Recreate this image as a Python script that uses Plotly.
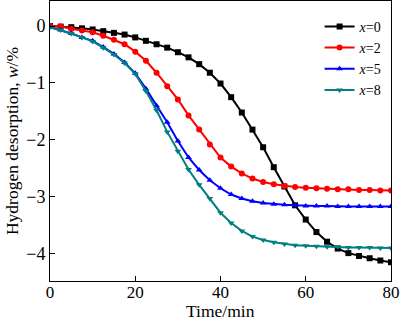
import plotly.graph_objects as go

time_min = [i * 2.5 for i in range(33)]

x0 = [0, -0.01, -0.02, -0.04, -0.06, -0.09, -0.12, -0.15, -0.20, -0.26, -0.32, -0.38,
      -0.46, -0.55, -0.67, -0.82, -1.01, -1.25, -1.52, -1.82, -2.13, -2.48, -2.82,
      -3.15, -3.40, -3.62, -3.79, -3.91, -3.99, -4.04, -4.08, -4.12, -4.15]
x2 = [0, -0.01, -0.05, -0.08, -0.11, -0.17, -0.24, -0.32, -0.45, -0.61, -0.82, -1.06,
      -1.29, -1.57, -1.82, -2.08, -2.31, -2.47, -2.59, -2.68, -2.74, -2.78, -2.81,
      -2.83, -2.84, -2.85, -2.86, -2.87, -2.87, -2.88, -2.88, -2.89, -2.89]
x5 = [-0.02, -0.07, -0.13, -0.20, -0.26, -0.37, -0.49, -0.64, -0.83, -1.10, -1.40, -1.69,
      -2.02, -2.31, -2.53, -2.71, -2.85, -2.96, -3.03, -3.08, -3.11, -3.13, -3.14,
      -3.15, -3.16, -3.16, -3.16, -3.17, -3.17, -3.17, -3.17, -3.17, -3.17]
x8 = [-0.02, -0.07, -0.13, -0.20, -0.27, -0.38, -0.50, -0.65, -0.84, -1.14, -1.48, -1.86,
      -2.20, -2.52, -2.79, -3.03, -3.28, -3.46, -3.60, -3.70, -3.76, -3.80, -3.83,
      -3.85, -3.86, -3.87, -3.88, -3.88, -3.89, -3.89, -3.89, -3.90, -3.90]

series_names = ["<i>x</i>=0", "<i>x</i>=2", "<i>x</i>=5", "<i>x</i>=8"]
series_vals = [x0, x2, x5, x8]
colors = ["#000000", "#ff0000", "#0000ff", "#008080"]
symbols = ["square", "circle", "triangle-up", "triangle-down"]

FONT = "Liberation Serif, Times New Roman, serif"

fig = go.Figure()
for name, vals, c, s in zip(series_names, series_vals, colors, symbols):
    fig.add_trace(go.Scatter(
        x=time_min, y=vals, name=name, mode="lines+markers",
        line=dict(color=c, width=2),
        marker=dict(symbol=s, size=6, color=c),
    ))

axis_common = dict(
    showline=True, linecolor="black", linewidth=1, mirror=True,
    ticks="inside", ticklen=5, tickcolor="black", showgrid=False, zeroline=False,
)

fig.update_layout(
    width=400, height=321,
    margin=dict(l=50, r=9, t=1, b=40),
    paper_bgcolor="white", plot_bgcolor="white",
    font=dict(family=FONT, color="black"),
    xaxis=dict(range=[0, 80], tickvals=[0, 20, 40, 60, 80], ticklabelstandoff=-4,
               tickfont=dict(family=FONT, size=17, color="black"),
               **axis_common),
    yaxis=dict(range=[-4.48, 0.44], tickvals=[0, -1, -2, -3, -4],
               tickfont=dict(family=FONT, size=18, color="black"),
               title=dict(text="Hydrogen desorption, <i>w</i>/%", font=dict(family=FONT, size=17.5), standoff=3),
               **axis_common),
    legend=dict(x=0.99, xanchor="right", y=0.965, yanchor="top",
                bgcolor="rgba(0,0,0,0)", font=dict(family=FONT, size=14),
                tracegroupgap=0, itemwidth=30),
    showlegend=True,
    annotations=[dict(text="Time/min", x=0.5, xref="paper", y=0, yref="paper",
                      yanchor="bottom", yshift=-41, showarrow=False, borderpad=0,
                      font=dict(family=FONT, size=17.5, color="black"))],
)

fig.write_html("out.html")
